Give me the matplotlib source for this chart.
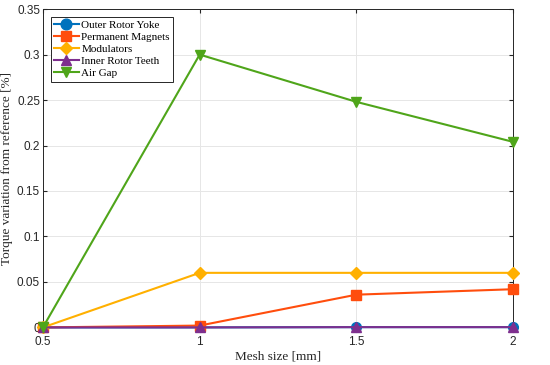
import matplotlib.pyplot as plt

# --- data ---
mesh_size = [0.5, 1.0, 1.5, 2.0]
outer_rotor_yoke = [0.0, 0.0, 0.0003, 0.0003]
permanent_magnets = [0.0, 0.002, 0.036, 0.042]
modulators = [0.0, 0.060, 0.060, 0.060]
inner_rotor_teeth = [0.0, 0.0, 0.0003, 0.0003]
air_gap = [0.0, 0.300, 0.248, 0.204]

series = [
    ("Outer Rotor Yoke", outer_rotor_yoke, "#0072BD", "o"),
    ("Permanent Magnets", permanent_magnets, "#FF4D0D", "s"),
    ("Modulators", modulators, "#FFB000", "D"),
    ("Inner Rotor Teeth", inner_rotor_teeth, "#7E2F8E", "^"),
    ("Air Gap", air_gap, "#4FA51A", "v"),
]

fig = plt.figure(figsize=(5.5, 3.65), dpi=100)
ax = fig.add_axes([0.078, 0.103, 0.855, 0.872])

for label, vals, color, marker in series:
    ms = 6 if marker == "D" else 7
    ax.plot(mesh_size, vals, color=color, marker=marker, markersize=ms,
            linewidth=1.5, label=label, clip_on=False, zorder=3)

ax.set_xlim(0.5, 2.0)
ax.set_ylim(0, 0.35)
ax.set_xticks([0.5, 1, 1.5, 2])
ax.set_xticklabels(["0.5", "1", "1.5", "2"])
ax.set_yticks([0, 0.05, 0.1, 0.15, 0.2, 0.25, 0.3, 0.35])
ax.set_yticklabels(["0", "0.05", "0.1", "0.15", "0.2", "0.25", "0.3", "0.35"])
ax.grid(True, color="#e6e6e6", linewidth=0.7)
ax.set_axisbelow(True)
for s in ax.spines.values():
    s.set_color("#262626")
    s.set_linewidth(0.7)
ax.tick_params(direction="in", length=3, labelsize=8.5, colors="#262626",
               pad=2, top=True, right=True)
ax.tick_params(axis="x", pad=6)
for t in ax.get_xticklabels() + ax.get_yticklabels():
    t.set_fontfamily("Liberation Sans")

ax.set_xlabel("Mesh size [mm]", fontfamily="Liberation Serif", fontsize=9.5,
              color="#262626", labelpad=2)
ax.set_ylabel("Torque variation from reference [%]", fontfamily="Liberation Serif",
              fontsize=9.5, color="#262626", labelpad=3)

leg = ax.legend(loc="upper left", bbox_to_anchor=(0.017, 0.975),
                prop={"family": "Liberation Serif", "size": 8},
                fancybox=False, edgecolor="#262626", framealpha=1,
                handlelength=2.2, handletextpad=0.25, labelspacing=0.2,
                borderpad=0.3, borderaxespad=0, markerscale=1.1)
leg.get_frame().set_linewidth(0.7)

fig.savefig("out.png", dpi=100)
